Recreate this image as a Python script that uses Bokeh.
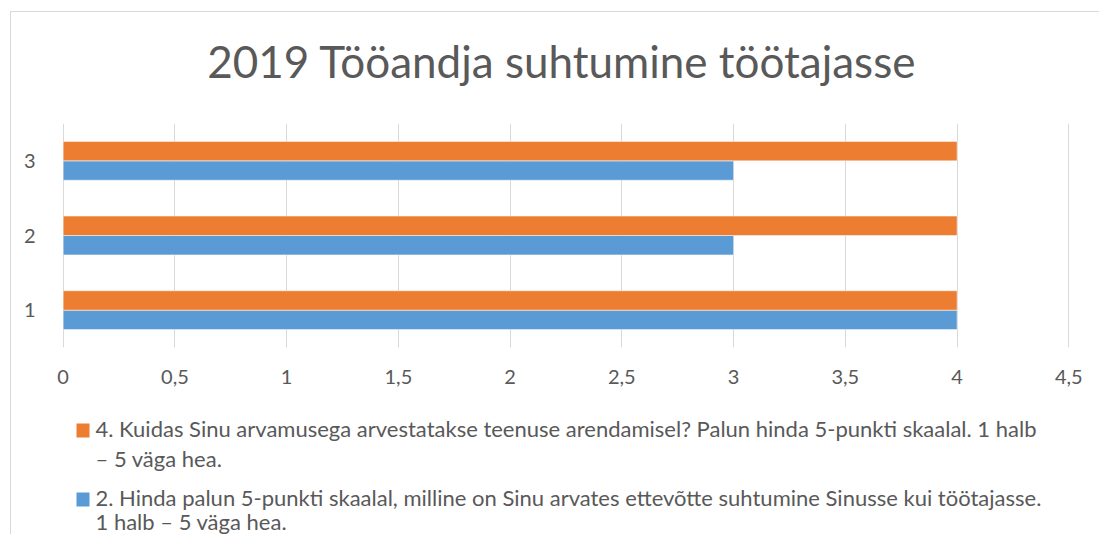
from bokeh.plotting import figure
from bokeh.layouts import column
from bokeh.models import ColumnDataSource, FixedTicker, Label, BoxAnnotation, FactorRange, Range1d
from bokeh.transform import dodge
from bokeh.embed import file_html
from bokeh.resources import INLINE

# ---------------- data ----------------
title_text = "2019 Tööandja suhtumine töötajasse"
categories = ["1", "2", "3"]
values_q2 = [4, 3, 3]   # blue series
values_q4 = [4, 4, 4]   # orange series
legend_q4_lines = ["4. Kuidas Sinu arvamusega arvestatakse teenuse arendamisel? Palun hinda 5-punkti skaalal. 1 halb",
                   "– 5 väga hea."]
legend_q2_lines = ["2. Hinda palun 5-punkti skaalal, milline on Sinu arvates ettevõtte suhtumine Sinusse kui töötajasse.",
                   "1 halb – 5 väga hea."]
x_ticks = [0, 0.5, 1, 1.5, 2, 2.5, 3, 3.5, 4, 4.5]
x_tick_labels = ["0", "0,5", "1", "1,5", "2", "2,5", "3", "3,5", "4", "4,5"]

BLUE = "#5B9BD5"
ORANGE = "#ED7D31"
TEXT = "#595959"
GRID = "#D9D9D9"
FONT = "Lato"

# page geometry (pixels): chart border at x=10, y=11; plot frame 62..1069 x 123..347
OX, OY = 11, 12
W = 1099 - OX
FL, FR, FT, FB = 62, 1069, 123, 347
AX_BOTTOM = 400      # bottom of chart figure (below x tick labels)
LEG_SIZE = 22


def base_y(baseline, size):
    # empirical correction for Bokeh's alphabetic baseline placement
    return baseline - 0.37 * size


def blank_fig(height, y_top, y_bottom):
    f = figure(width=W, height=height,
               x_range=Range1d(FL, FR), y_range=Range1d(y_bottom, y_top),
               output_backend="svg", toolbar_location=None,
               min_border=0, x_axis_location=None, y_axis_location=None)
    f.grid.grid_line_color = None
    f.outline_line_color = None
    f.background_fill_color = "white"
    f.border_fill_color = "white"
    return f


# ---- title strip ----
tf = blank_fig(FT - OY, OY, FT)
tf.add_layout(Label(x=561.5, y=base_y(77, 44), text=title_text,
                    text_align="center", text_baseline="alphabetic",
                    text_font=FONT, text_font_size="44px", text_color=TEXT))

# ---- chart ----
src = ColumnDataSource(data=dict(cat=categories, q2=values_q2, q4=values_q4))

p = figure(width=W, height=AX_BOTTOM - FT,
           y_range=FactorRange(factors=categories),
           x_range=Range1d(-0.003, 4.503),
           output_backend="svg", toolbar_location=None,
           min_border_left=FL - OX, min_border_right=1099 - FR,
           min_border_top=0, min_border_bottom=AX_BOTTOM - FB)

p.hbar(y=dodge("cat", -0.13, range=p.y_range), left=0, right="q2", height=0.26,
       source=src, fill_color=BLUE, line_color="white", line_width=0.5)
p.hbar(y=dodge("cat", 0.13, range=p.y_range), left=0, right="q4", height=0.26,
       source=src, fill_color=ORANGE, line_color="white", line_width=0.5)

p.outline_line_color = None
p.background_fill_color = "white"
p.border_fill_color = "white"
p.ygrid.grid_line_color = None
p.xgrid.grid_line_color = GRID
p.xgrid.grid_line_width = 1

p.xaxis.ticker = FixedTicker(ticks=x_ticks)
p.xaxis.major_label_overrides = {t: s for t, s in zip(x_ticks, x_tick_labels)}

for ax in (p.xaxis[0], p.yaxis[0]):
    ax.axis_line_color = None
    ax.major_tick_line_color = None
    ax.minor_tick_line_color = None
    ax.major_label_text_font = FONT
    ax.major_label_text_font_size = "20px"
    ax.major_label_text_color = TEXT
p.xaxis.major_label_standoff = 16
p.yaxis.major_label_standoff = 21

# ---- legend strip ----
lg = blank_fig(534 - AX_BOTTOM, AX_BOTTOM, 534)
legend_items = [(ORANGE, legend_q4_lines, [436, 466]), (BLUE, legend_q2_lines, [505, 529])]
for color, lines, bases in legend_items:
    lg.add_layout(BoxAnnotation(left=76, right=89, top=bases[0] - 13, bottom=bases[0] + 1,
                                fill_color=color, fill_alpha=1, line_color=None))
    for line, base in zip(lines, bases):
        lg.add_layout(Label(x=95, y=base_y(base, LEG_SIZE), text=line, text_align="left",
                            text_baseline="alphabetic", text_font=FONT,
                            text_font_size=f"{LEG_SIZE}px", text_color=TEXT))

layout = column(tf, p, lg, spacing=0, margin=(11, 0, 0, 10),
                styles={"border-left": "1px solid #D9D9D9",
                        "border-top": "1px solid #D9D9D9",
                        "border-radius": "0px"})

open("out.html", "w").write(file_html(layout, INLINE))
